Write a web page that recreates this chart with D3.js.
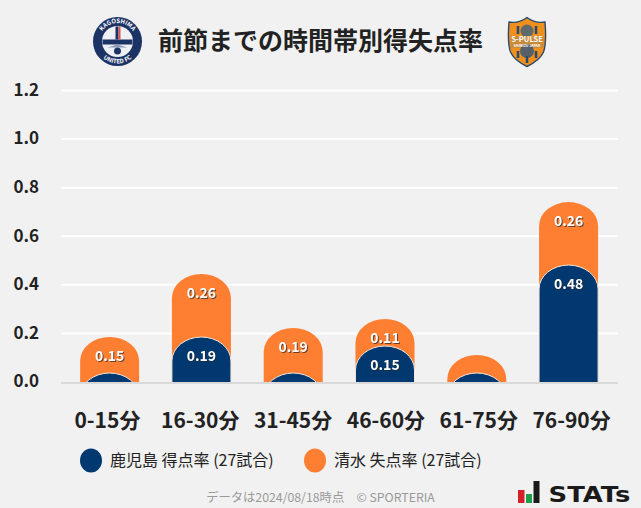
<!DOCTYPE html>
<html>
<head>
<meta charset="utf-8">
<script src="https://cdn.jsdelivr.net/npm/d3@7"></script>
<style>
  html, body { margin: 0; padding: 0; background: #f1f1f1; }
  svg, svg text { font-family: "Noto Sans CJK JP", "Noto Sans", sans-serif; }
  svg { display: block; }
  .y-axis text { font-size: 17px; font-weight: 700; fill: #222; }
  .x-axis text { font-size: 21px; font-weight: 700; fill: #222; }
  .bar-label { font-size: 14px; font-weight: 700; fill: #fff; text-anchor: middle; filter: drop-shadow(1px 1px 0 rgba(40,40,40,.7)); }
</style>
</head>
<body>
<div id="chart"></div>
<script>
const categories = ['0-15分', '16-30分', '31-45分', '46-60分', '61-75分', '76-90分'];
const homeValues = [0.037, 0.1852, 0.037, 0.1481, 0.037, 0.4815];
const awayValues = [0.1481, 0.2593, 0.1852, 0.1111, 0.0741, 0.2593];
const yTicks = [0, 0.2, 0.4, 0.6, 0.8, 1.0, 1.2];
const seriesNames = ['鹿児島 得点率 (27試合)', '清水 失点率 (27試合)'];
const seriesColors = ['#00386f', '#ff7f32'];
const minLabel = 0.1;

const width = 641;
const height = 508;

const svg = d3.select('#chart')
  .append('svg')
  .attr('width', width)
  .attr('height', height);

svg.append('rect')
  .attr('width', width)
  .attr('height', height)
  .attr('fill', '#f1f1f1');

const xScale = d3.scaleBand()
  .domain(categories)
  .range([63.6, 614.6])
  .paddingInner(0.357)
  .paddingOuter(0.18);

// the tick labels sit on the full width of the plot, the bars a little inside it
const xAxisScale = d3.scaleBand()
  .domain(categories)
  .range([61, 618]);

const yScale = d3.scaleLinear()
  .domain([0, 1.2])
  .range([382, 90.5]);

// grid
svg.append('g')
  .selectAll('line')
  .data(yTicks.slice(1))
  .enter()
  .append('line')
  .attr('x1', 61)
  .attr('x2', 618)
  .attr('y1', d => yScale(d))
  .attr('y2', d => yScale(d))
  .attr('stroke', '#fff')
  .attr('stroke-width', 2);

svg.append('defs')
  .append('clipPath')
  .attr('id', 'plot-clip')
  .append('rect')
  .attr('x', 0)
  .attr('y', 0)
  .attr('width', width)
  .attr('height', yScale(0));

// bar with an elliptical top, cut off by the baseline when it is short
function barPath(x, w, top) {
  const rx = w / 2;
  const ry = 24;
  return `M${x},${yScale(0) + 30}V${top + ry}A${rx},${ry} 0 0 1 ${x + w},${top + ry}V${yScale(0) + 30}Z`;
}

const bars = svg.append('g').attr('clip-path', 'url(#plot-clip)');

bars.selectAll('.away-bar')
  .data(categories)
  .enter()
  .append('path')
  .attr('class', 'away-bar')
  .attr('d', (d, i) => barPath(xScale(d), xScale.bandwidth(), yScale(homeValues[i] + awayValues[i])))
  .attr('fill', seriesColors[1]);

bars.selectAll('.home-bar')
  .data(categories)
  .enter()
  .append('path')
  .attr('class', 'home-bar')
  .attr('d', (d, i) => barPath(xScale(d), xScale.bandwidth(), yScale(homeValues[i])))
  .attr('fill', seriesColors[0])
  .attr('stroke', '#f3e6dc')
  .attr('stroke-width', 1);

// baseline
svg.append('line')
  .attr('x1', 61)
  .attr('x2', 618)
  .attr('y1', yScale(0) + 1)
  .attr('y2', yScale(0) + 1)
  .attr('stroke', '#d9d9d9')
  .attr('stroke-width', 2);

// labels
svg.selectAll('.home-label')
  .data(categories)
  .enter()
  .filter((d, i) => homeValues[i] >= minLabel)
  .append('text')
  .attr('class', 'bar-label')
  .attr('x', d => xScale(d) + xScale.bandwidth() / 2)
  .attr('y', d => yScale(homeValues[categories.indexOf(d)]) + 24)
  .text(d => homeValues[categories.indexOf(d)].toFixed(2));

svg.selectAll('.away-label')
  .data(categories)
  .enter()
  .filter((d, i) => awayValues[i] >= minLabel)
  .append('text')
  .attr('class', 'bar-label')
  .attr('x', d => xScale(d) + xScale.bandwidth() / 2)
  .attr('y', d => {
    const i = categories.indexOf(d);
    return yScale(homeValues[i] + awayValues[i]) + 24;
  })
  .text(d => awayValues[categories.indexOf(d)].toFixed(2));

// axes
const yAxis = svg.append('g')
  .attr('class', 'y-axis')
  .attr('transform', 'translate(39,0)')
  .call(d3.axisLeft(yScale).tickValues(yTicks).tickFormat(d3.format('.1f')).tickSize(0).tickPadding(0));
yAxis.select('.domain').remove();
yAxis.selectAll('text').attr('dy', '0.28em');

const xAxis = svg.append('g')
  .attr('class', 'x-axis')
  .attr('transform', 'translate(0,413)')
  .call(d3.axisBottom(xAxisScale).tickSize(0).tickPadding(0));
xAxis.select('.domain').remove();

// title
svg.append('text')
  .attr('x', 320.5)
  .attr('y', 50)
  .attr('text-anchor', 'middle')
  .attr('font-size', 25)
  .attr('font-weight', 700)
  .attr('fill', '#222')
  .text('前節までの時間帯別得失点率');

// home crest
const defs = svg.select('defs');
defs.append('path').attr('id', 'arc-top').attr('d', 'M-18.5,0A18.5,18.5 0 0 1 18.5,0');
defs.append('path').attr('id', 'arc-bottom').attr('d', 'M-22,0A22,22 0 0 0 22,0');

const home = svg.append('g').attr('transform', 'translate(117.5,41.5)');
home.append('circle').attr('r', 24.5).attr('fill', '#1c3365');
home.append('circle').attr('r', 15.5).attr('fill', '#eef0f4');
home.append('path').attr('d', 'M-15,-2H15V3H-15Z').attr('fill', '#1c3365');
home.append('path').attr('d', 'M-2,-15H1V-2H-2Z').attr('fill', '#1c3365');
home.append('path').attr('d', 'M1,-15H3V-2H1Z').attr('fill', '#d9534f');
home.append('path').attr('d', 'M-10,6L0,3L10,6Z').attr('fill', '#8d99b5');
home.append('circle').attr('cy', 9.5).attr('r', 3.5).attr('fill', '#1c3365');
home.append('text').attr('font-size', 6).attr('font-weight', 700).attr('fill', '#fff')
  .append('textPath').attr('href', '#arc-top').attr('startOffset', '50%').attr('text-anchor', 'middle').text('KAGOSHIMA');
home.append('text').attr('font-size', 6).attr('font-weight', 700).attr('fill', '#fff')
  .append('textPath').attr('href', '#arc-bottom').attr('startOffset', '50%').attr('text-anchor', 'middle').text('UNITED FC');

// away crest
const away = svg.append('g').attr('transform', 'translate(527,42)');
away.append('path')
  .attr('d', 'M0,-24.5C6,-20 12,-19 18,-20C19,-8 19,3 16.5,10C14,16 7,21 0,24.5C-7,21 -14,16 -16.5,10C-19,3 -19,-8 -18,-20C-12,-19 -6,-20 0,-24.5Z')
  .attr('fill', '#ef8f1c')
  .attr('stroke', '#294a70')
  .attr('stroke-width', 1.4);
away.append('circle').attr('cy', -11).attr('r', 6.5).attr('fill', '#5f6a6a');
away.append('rect').attr('x', -16.5).attr('y', -6).attr('width', 33).attr('height', 12).attr('fill', '#c98a3a');
away.append('circle').attr('cy', 9).attr('r', 7).attr('fill', '#55606a');
away.append('path').attr('d', 'M-9,9V16M9,9V16M0,14V21M-9,-16V-8M9,-16V-8').attr('stroke', '#294a70').attr('stroke-width', 2.5);
away.append('text').attr('y', -0.5).attr('text-anchor', 'middle').attr('font-size', 7.5).attr('font-weight', 700).attr('fill', '#fff').text('S-PULSE');
away.append('text').attr('y', 5).attr('text-anchor', 'middle').attr('font-size', 3.5).attr('font-weight', 700).attr('fill', '#fff').text('SHIMIZU JAPAN');

// legend
const legendX = [91, 315];
const legend = svg.selectAll('.legend')
  .data(seriesNames)
  .enter()
  .append('g')
  .attr('class', 'legend')
  .attr('transform', (d, i) => `translate(${legendX[i]},460.5)`);

legend.append('ellipse')
  .attr('rx', 11)
  .attr('ry', 12)
  .attr('fill', (d, i) => seriesColors[i]);

legend.append('text')
  .attr('x', 19)
  .attr('y', 5.5)
  .attr('font-size', 16)
  .attr('fill', '#222')
  .text(d => d);

// footer
svg.append('text')
  .attr('x', 320.5)
  .attr('y', 502)
  .attr('text-anchor', 'middle')
  .attr('font-size', 12.3)
  .attr('fill', '#999')
  .text('データは2024/08/18時点　© SPORTERIA');

// stats logo
const logo = svg.append('g').attr('transform', 'translate(518,481)');
logo.append('rect').attr('x', 0).attr('y', 9).attr('width', 6.5).attr('height', 13).attr('fill', '#d5202a');
logo.append('rect').attr('x', 8).attr('y', 13).attr('width', 6).attr('height', 9).attr('fill', '#1f9d4d');
logo.append('rect').attr('x', 15.5).attr('y', 0).attr('width', 6).attr('height', 22).attr('fill', '#1a1a1a');
logo.append('text')
  .attr('x', 30.5)
  .attr('y', 21)
  .style('font-family', '"DejaVu Sans", sans-serif')
  .attr('font-size', 21)
  .attr('font-weight', 700)
  .attr('textLength', 82)
  .attr('lengthAdjust', 'spacingAndGlyphs')
  .attr('fill', '#1a1a1a')
  .text('STATs');
</script>
</body>
</html>
